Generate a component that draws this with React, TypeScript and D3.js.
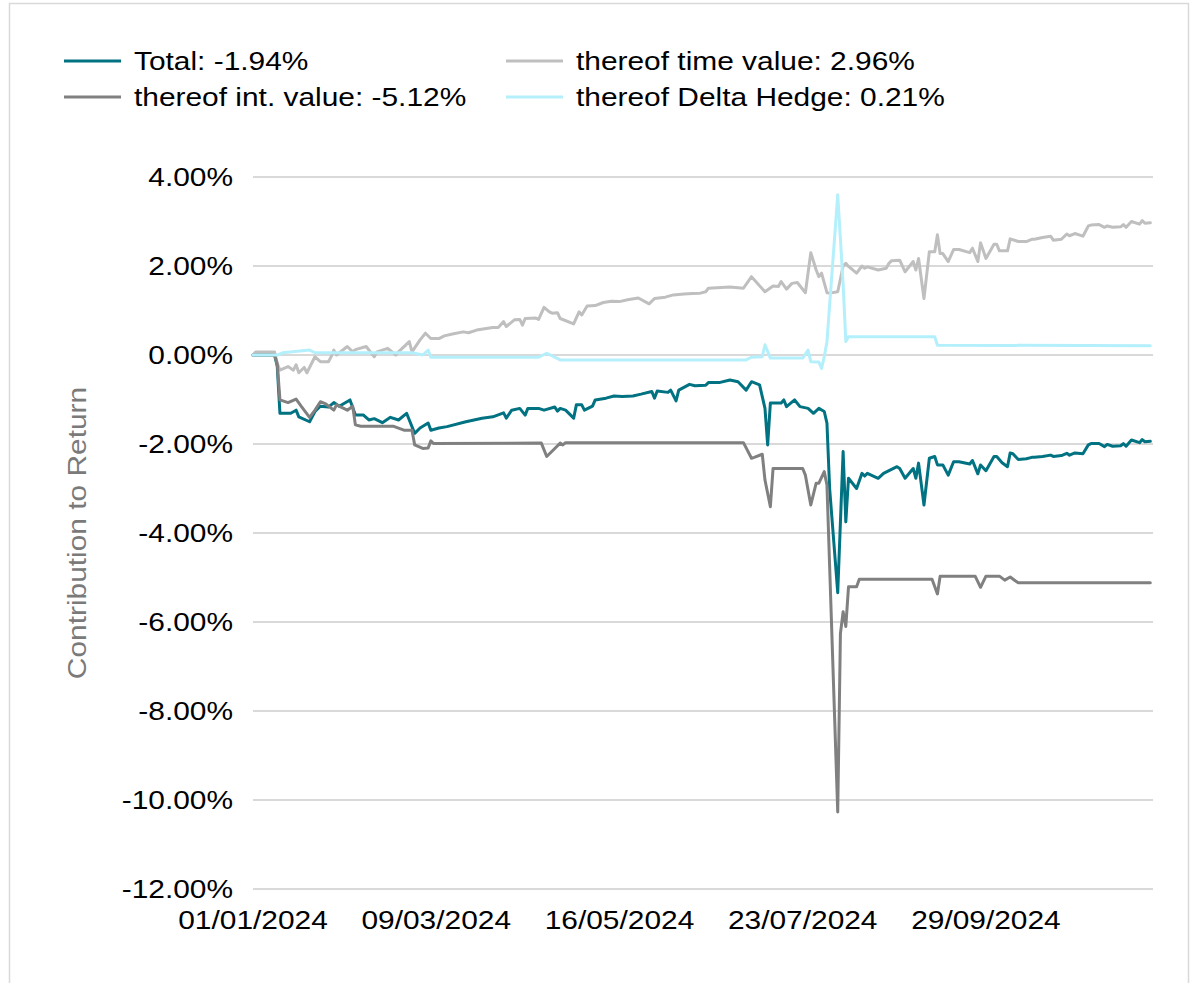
import React from "react";
import * as d3 from "d3";

// readings per series: [date, contribution in %]
const TOTAL: [string, number][] = [
  ["2024-01-01", 0], ["2024-01-09", 0], ["2024-01-10", -0.25], ["2024-01-11", -1.31], ["2024-01-15", -1.31],
  ["2024-01-17", -1.24], ["2024-01-18", -1.39], ["2024-01-22", -1.5], ["2024-01-24", -1.27], ["2024-01-26", -1.15],
  ["2024-01-29", -1.17], ["2024-01-31", -1.07], ["2024-02-02", -1.15], ["2024-02-06", -1.01], ["2024-02-08", -1.35],
  ["2024-02-11", -1.35], ["2024-02-13", -1.46], ["2024-02-15", -1.43], ["2024-02-18", -1.52], ["2024-02-21", -1.4],
  ["2024-02-24", -1.46], ["2024-02-27", -1.31], ["2024-03-01", -1.76], ["2024-03-03", -1.64], ["2024-03-06", -1.53],
  ["2024-03-07", -1.69], ["2024-03-10", -1.64], ["2024-03-13", -1.61], ["2024-03-20", -1.5], ["2024-03-26", -1.42],
  ["2024-03-30", -1.39], ["2024-04-03", -1.3], ["2024-04-04", -1.42], ["2024-04-06", -1.24], ["2024-04-09", -1.2],
  ["2024-04-11", -1.35], ["2024-04-12", -1.2], ["2024-04-16", -1.2], ["2024-04-18", -1.24], ["2024-04-22", -1.17],
  ["2024-04-23", -1.26], ["2024-04-24", -1.2], ["2024-04-26", -1.24], ["2024-04-29", -1.42], ["2024-04-30", -1.12],
  ["2024-05-02", -1.12], ["2024-05-03", -1.24], ["2024-05-06", -1.15], ["2024-05-07", -1.01], ["2024-05-11", -0.97],
  ["2024-05-14", -0.92], ["2024-05-17", -0.93], ["2024-05-21", -0.92], ["2024-05-24", -0.88], ["2024-05-28", -0.82],
  ["2024-05-29", -0.97], ["2024-05-30", -0.81], ["2024-06-03", -0.84], ["2024-06-04", -0.79], ["2024-06-06", -1.03],
  ["2024-06-07", -0.79], ["2024-06-11", -0.66], ["2024-06-13", -0.69], ["2024-06-17", -0.68], ["2024-06-18", -0.62],
  ["2024-06-22", -0.62], ["2024-06-26", -0.56], ["2024-06-29", -0.6], ["2024-07-02", -0.79], ["2024-07-04", -0.6],
  ["2024-07-07", -0.67], ["2024-07-09", -1.2], ["2024-07-10", -2.02], ["2024-07-11", -1.08], ["2024-07-15", -1.08],
  ["2024-07-16", -1.01], ["2024-07-17", -1.16], ["2024-07-20", -1.01], ["2024-07-22", -1.16], ["2024-07-25", -1.2],
  ["2024-07-27", -1.31], ["2024-07-29", -1.2], ["2024-07-31", -1.27], ["2024-08-01", -1.53], ["2024-08-02", -3.0],
  ["2024-08-05", -5.34], ["2024-08-07", -2.17], ["2024-08-08", -3.75], ["2024-08-09", -2.77], ["2024-08-12", -3.0],
  ["2024-08-14", -2.66], ["2024-08-15", -2.72], ["2024-08-16", -2.66], ["2024-08-20", -2.77], ["2024-08-22", -2.66],
  ["2024-08-27", -2.51], ["2024-08-28", -2.55], ["2024-08-30", -2.77], ["2024-09-02", -2.55], ["2024-09-03", -2.77],
  ["2024-09-04", -2.43], ["2024-09-06", -3.37], ["2024-09-08", -2.32], ["2024-09-10", -2.28], ["2024-09-11", -2.47],
  ["2024-09-13", -2.47], ["2024-09-15", -2.7], ["2024-09-17", -2.4], ["2024-09-19", -2.4], ["2024-09-23", -2.45],
  ["2024-09-24", -2.37], ["2024-09-26", -2.67], ["2024-09-27", -2.47], ["2024-09-29", -2.6], ["2024-10-02", -2.28],
  ["2024-10-03", -2.28], ["2024-10-05", -2.42], ["2024-10-07", -2.51], ["2024-10-08", -2.2], ["2024-10-09", -2.22],
  ["2024-10-11", -2.35], ["2024-10-14", -2.33], ["2024-10-16", -2.3], ["2024-10-17", -2.3], ["2024-10-20", -2.28],
  ["2024-10-23", -2.25], ["2024-10-24", -2.28], ["2024-10-27", -2.26], ["2024-10-29", -2.21], ["2024-10-30", -2.25],
  ["2024-11-01", -2.2], ["2024-11-04", -2.22], ["2024-11-06", -2.02], ["2024-11-07", -1.99], ["2024-11-10", -1.99],
  ["2024-11-12", -2.06], ["2024-11-13", -2.01], ["2024-11-15", -2.05], ["2024-11-18", -2.04], ["2024-11-19", -1.99],
  ["2024-11-20", -2.05], ["2024-11-22", -1.91], ["2024-11-25", -1.97], ["2024-11-26", -1.9], ["2024-11-27", -1.95],
  ["2024-11-29", -1.94],
];

const TIME_VALUE: [string, number][] = [
  ["2024-01-01", 0], ["2024-01-02", 0.07], ["2024-01-09", 0.07], ["2024-01-10", -0.19], ["2024-01-11", -0.34],
  ["2024-01-14", -0.26], ["2024-01-16", -0.34], ["2024-01-17", -0.22], ["2024-01-18", -0.4], ["2024-01-20", -0.28],
  ["2024-01-21", -0.4], ["2024-01-24", -0.04], ["2024-01-26", -0.15], ["2024-01-29", -0.15], ["2024-01-30", -0.04],
  ["2024-01-31", 0.11], ["2024-02-01", 0], ["2024-02-05", 0.19], ["2024-02-07", 0.07], ["2024-02-08", 0.12],
  ["2024-02-12", 0.19], ["2024-02-15", -0.04], ["2024-02-16", 0.07], ["2024-02-20", 0.15], ["2024-02-23", 0],
  ["2024-02-24", 0.07], ["2024-02-28", 0.3], ["2024-02-29", 0.07], ["2024-03-03", 0.34], ["2024-03-05", 0.49],
  ["2024-03-07", 0.37], ["2024-03-10", 0.37], ["2024-03-12", 0.43], ["2024-03-15", 0.47], ["2024-03-19", 0.52],
  ["2024-03-21", 0.5], ["2024-03-24", 0.56], ["2024-03-30", 0.62], ["2024-04-01", 0.62], ["2024-04-03", 0.75],
  ["2024-04-04", 0.64], ["2024-04-07", 0.79], ["2024-04-09", 0.8], ["2024-04-10", 0.67], ["2024-04-11", 0.82],
  ["2024-04-15", 0.83], ["2024-04-16", 0.8], ["2024-04-18", 1.07], ["2024-04-20", 0.97], ["2024-04-21", 0.94],
  ["2024-04-23", 0.95], ["2024-04-24", 0.82], ["2024-04-29", 0.7], ["2024-05-01", 0.97], ["2024-05-02", 0.9],
  ["2024-05-04", 1.1], ["2024-05-07", 1.11], ["2024-05-10", 1.18], ["2024-05-13", 1.21], ["2024-05-16", 1.2],
  ["2024-05-19", 1.24], ["2024-05-23", 1.28], ["2024-05-27", 1.15], ["2024-05-29", 1.27], ["2024-06-02", 1.3],
  ["2024-06-05", 1.35], ["2024-06-09", 1.37], ["2024-06-12", 1.38], ["2024-06-15", 1.39], ["2024-06-17", 1.42],
  ["2024-06-18", 1.5], ["2024-06-26", 1.53], ["2024-07-01", 1.5], ["2024-07-04", 1.76], ["2024-07-09", 1.42],
  ["2024-07-12", 1.55], ["2024-07-14", 1.54], ["2024-07-15", 1.65], ["2024-07-17", 1.48], ["2024-07-19", 1.61],
  ["2024-07-21", 1.63], ["2024-07-24", 1.4], ["2024-07-26", 2.3], ["2024-07-28", 1.91], ["2024-07-29", 1.76],
  ["2024-07-30", 1.84], ["2024-08-01", 1.4], ["2024-08-02", 1.39], ["2024-08-05", 1.42], ["2024-08-07", 2.0],
  ["2024-08-08", 2.06], ["2024-08-09", 1.99], ["2024-08-12", 1.84], ["2024-08-14", 2.0], ["2024-08-15", 1.95],
  ["2024-08-16", 1.98], ["2024-08-20", 1.91], ["2024-08-23", 1.95], ["2024-08-24", 2.06], ["2024-08-25", 2.12],
  ["2024-08-28", 2.13], ["2024-08-30", 1.87], ["2024-09-02", 2.1], ["2024-09-03", 1.91], ["2024-09-04", 2.17],
  ["2024-09-06", 1.27], ["2024-09-08", 2.32], ["2024-09-10", 2.32], ["2024-09-11", 2.7], ["2024-09-12", 2.28],
  ["2024-09-13", 2.28], ["2024-09-15", 2.1], ["2024-09-17", 2.37], ["2024-09-19", 2.37], ["2024-09-23", 2.3],
  ["2024-09-24", 2.4], ["2024-09-26", 2.1], ["2024-09-27", 2.52], ["2024-09-29", 2.17], ["2024-10-02", 2.49],
  ["2024-10-03", 2.49], ["2024-10-04", 2.34], ["2024-10-07", 2.34], ["2024-10-08", 2.61], ["2024-10-11", 2.55],
  ["2024-10-14", 2.55], ["2024-10-16", 2.6], ["2024-10-17", 2.6], ["2024-10-20", 2.64], ["2024-10-23", 2.67],
  ["2024-10-24", 2.58], ["2024-10-27", 2.6], ["2024-10-29", 2.72], ["2024-10-30", 2.68], ["2024-11-01", 2.73],
  ["2024-11-04", 2.67], ["2024-11-06", 2.9], ["2024-11-07", 2.92], ["2024-11-10", 2.93], ["2024-11-12", 2.87],
  ["2024-11-13", 2.9], ["2024-11-15", 2.87], ["2024-11-18", 2.88], ["2024-11-19", 2.93], ["2024-11-20", 2.87],
  ["2024-11-22", 3.0], ["2024-11-25", 2.94], ["2024-11-26", 3.02], ["2024-11-27", 2.96], ["2024-11-29", 2.97],
];

const INT_VALUE: [string, number][] = [
  ["2024-01-01", 0], ["2024-01-09", 0], ["2024-01-10", -0.2], ["2024-01-11", -1.01], ["2024-01-14", -1.07],
  ["2024-01-17", -0.99], ["2024-01-19", -1.16], ["2024-01-22", -1.4], ["2024-01-24", -1.24], ["2024-01-26", -1.05],
  ["2024-01-28", -1.1], ["2024-01-31", -1.24], ["2024-02-01", -1.12], ["2024-02-05", -1.24], ["2024-02-07", -1.15],
  ["2024-02-08", -1.57], ["2024-02-10", -1.6], ["2024-02-22", -1.6], ["2024-02-26", -1.69], ["2024-02-29", -1.69],
  ["2024-03-01", -2.02], ["2024-03-04", -2.1], ["2024-03-06", -2.09], ["2024-03-07", -1.93], ["2024-03-08", -1.99],
  ["2024-04-17", -1.98], ["2024-04-19", -2.28], ["2024-04-22", -2.1], ["2024-04-24", -1.98], ["2024-04-25", -2.02],
  ["2024-04-26", -1.97], ["2024-07-01", -1.97], ["2024-07-04", -2.32], ["2024-07-05", -2.3], ["2024-07-08", -2.23],
  ["2024-07-09", -2.81], ["2024-07-11", -3.41], ["2024-07-12", -2.55], ["2024-07-23", -2.55], ["2024-07-24", -2.7],
  ["2024-07-26", -3.37], ["2024-07-28", -2.88], ["2024-07-29", -2.88], ["2024-07-31", -2.62], ["2024-08-01", -2.92],
  ["2024-08-05", -10.27], ["2024-08-06", -6.26], ["2024-08-07", -5.77], ["2024-08-08", -6.1], ["2024-08-09", -5.21],
  ["2024-08-12", -5.21], ["2024-08-13", -5.04], ["2024-09-09", -5.04], ["2024-09-11", -5.37], ["2024-09-12", -4.97],
  ["2024-09-25", -4.97], ["2024-09-27", -5.22], ["2024-09-29", -4.97], ["2024-10-04", -4.97], ["2024-10-06", -5.06],
  ["2024-10-08", -4.99], ["2024-10-10", -5.08], ["2024-10-11", -5.12], ["2024-11-29", -5.12],
];

const DELTA_HEDGE: [string, number][] = [
  ["2024-01-01", 0], ["2024-01-10", 0], ["2024-01-12", 0.05], ["2024-01-22", 0.11], ["2024-01-24", 0.05],
  ["2024-02-29", 0.05], ["2024-03-04", 0], ["2024-03-06", 0.11], ["2024-03-07", -0.05], ["2024-04-16", -0.05],
  ["2024-04-19", 0.04], ["2024-04-24", -0.11], ["2024-07-02", -0.11], ["2024-07-04", -0.05], ["2024-07-08", -0.04],
  ["2024-07-09", 0.23], ["2024-07-11", -0.07], ["2024-07-23", -0.07], ["2024-07-25", 0.11], ["2024-07-26", -0.15],
  ["2024-07-29", -0.16], ["2024-07-30", -0.3], ["2024-07-31", -0.04], ["2024-08-01", 0.3], ["2024-08-05", 3.6],
  ["2024-08-07", 1.6], ["2024-08-08", 0.3], ["2024-08-09", 0.41], ["2024-09-10", 0.41], ["2024-09-11", 0.22],
  ["2024-11-29", 0.21],
];

const LEGEND_LABELS = [
  "Total: -1.94%",
  "thereof time value: 2.96%",
  "thereof int. value: -5.12%",
  "thereof Delta Hedge: 0.21%",
];
const X_TICKS = ["2024-01-01", "2024-03-09", "2024-05-16", "2024-07-23", "2024-09-29"];
const Y_TICKS = [4, 2, 0, -2, -4, -6, -8, -10, -12];
const Y_TITLE = "Contribution to Return";

const W = 1202;
const H = 983;
const LEFT = 253;
const RIGHT = 1153;
const TOP = 177;
const BOTTOM = 889;
const FONT = "'Liberation Sans', Arial, Helvetica, sans-serif";
const FS = 26;
const STRETCH = "scale(1.15,1)"; // the source text is a bit wider than plain Arial

const parse = d3.timeParse("%Y-%m-%d");
const fmt = d3.timeFormat("%d/%m/%Y");

export default function App() {
  const x = d3.scaleTime()
    .domain([parse("2024-01-01") as Date, parse("2024-11-30") as Date])
    .range([LEFT, RIGHT]);
  const y = d3.scaleLinear().domain([-12, 4]).range([BOTTOM, TOP]);

  const line = d3.line<[string, number]>()
    .x(d => x(parse(d[0]) as Date))
    .y(d => y(d[1]));

  // draw order = Excel series order, last one on top
  const series = [
    { label: LEGEND_LABELS[0], data: TOTAL, color: "#007282" },
    { label: LEGEND_LABELS[1], data: TIME_VALUE, color: "#bfbfbf" },
    { label: LEGEND_LABELS[2], data: INT_VALUE, color: "#808080" },
    { label: LEGEND_LABELS[3], data: DELTA_HEDGE, color: "#b4effc" },
  ];

  const legendCols = [64, 506];
  const legendRows = [61, 97];

  return (
    <svg width={W} height={H} style={{ position: "absolute", left: 0, top: 0, display: "block", background: "#fff" }}
      fontFamily={FONT}>
      <rect x={9.5} y={3.5} width={1179} height={1000} fill="#fff" stroke="#d9d9d9" strokeWidth={1.5} />

      {/* legend */}
      {series.map((s, i) => {
        const lx = legendCols[i % 2];
        const ly = legendRows[Math.floor(i / 2)];
        return (
          <g key={s.label}>
            <line x1={lx} x2={lx + 57} y1={ly} y2={ly} stroke={s.color} strokeWidth={3} />
            <text transform={`translate(${lx + 70},${ly + 9}) ${STRETCH}`} fontSize={FS} fill="#000">{s.label}</text>
          </g>
        );
      })}

      {/* gridlines + y ticks */}
      {Y_TICKS.map(t => (
        <g key={t}>
          <line x1={LEFT} x2={RIGHT} y1={y(t)} y2={y(t)} stroke="#d9d9d9" strokeWidth={2} />
          <text transform={`translate(233,${y(t)}) ${STRETCH}`} dy="0.35em" textAnchor="end" fontSize={FS} fill="#000">
            {t.toFixed(2) + "%"}
          </text>
        </g>
      ))}

      {/* x ticks */}
      {X_TICKS.map(t => (
        <text key={t} transform={`translate(${x(parse(t) as Date)},929) ${STRETCH}`} textAnchor="middle"
          fontSize={FS} fill="#000">
          {fmt(parse(t) as Date)}
        </text>
      ))}

      <text transform={`translate(86,${(TOP + BOTTOM) / 2}) rotate(-90) ${STRETCH}`} textAnchor="middle"
        fontSize={FS} fill="#7a7a7a">{Y_TITLE}</text>

      {series.map(s => (
        <path key={s.label} d={line(s.data) || ""} fill="none" stroke={s.color} strokeWidth={3}
          strokeLinejoin="round" strokeLinecap="round" />
      ))}
    </svg>
  );
}
